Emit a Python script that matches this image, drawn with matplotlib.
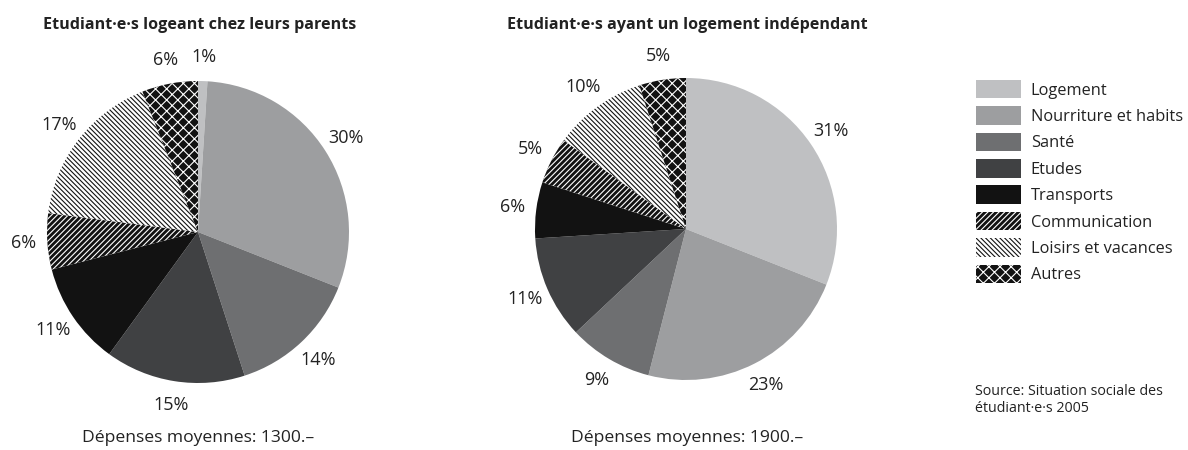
import matplotlib
matplotlib.use("Agg")
import matplotlib.pyplot as plt

plt.rcParams['font.family'] = ['Open Sans', 'DejaVu Sans']
plt.rcParams['hatch.linewidth'] = 0.8

categories = ["Logement", "Nourriture et habits", "Santé", "Etudes", "Transports",
              "Communication", "Loisirs et vacances", "Autres"]
parents = [1, 30, 14, 15, 11, 6, 17, 6]
independant = [31, 23, 9, 11, 6, 5, 10, 5]

titres = ["Etudiant·e·s logeant chez leurs parents",
          "Etudiant·e·s ayant un logement indépendant"]
depenses = ["Dépenses moyennes: 1300.–", "Dépenses moyennes: 1900.–"]
source = "Source: Situation sociale des\nétudiant·e·s 2005"

# couleur de fond, couleur des hachures, motif
faces = ["#bfc0c2", "#9d9ea0", "#6e6f71", "#404143", "#121212", "#121212", "white", "#121212"]
edges = ["#bfc0c2", "#9d9ea0", "#6e6f71", "#404143", "#121212", "white", "#121212", "white"]
hatches = [None, None, None, None, None, "//////", "\\" * 7, "xxx"]

W, H = 1188, 450
fig = plt.figure(figsize=(W / 100, H / 100), dpi=100)


def pie_axes(cx, cy, r):
    return fig.add_axes([(cx - r) / W, (H - cy - r) / H, 2 * r / W, 2 * r / H])


centres = [(198, 232), (686, 229)]
wedges_all = []
for i, vals in enumerate([parents, independant]):
    cx, cy = centres[i]
    ax = pie_axes(cx, cy, 151)
    wedges, texts = ax.pie(vals, labels=[f"{v}%" for v in vals], startangle=90,
                           counterclock=False, labeldistance=1.16,
                           colors=faces, wedgeprops=dict(linewidth=0),
                           textprops=dict(fontsize=13, color="#222222"))
    for w, ec, h in zip(wedges, edges, hatches):
        w.set_edgecolor(ec)
        if h:
            w.set_hatch(h)
    for t in texts:
        t.set_ha("center")
    ax.set_xlim(-1, 1)
    ax.set_ylim(-1, 1)
    wedges_all.append(wedges)

fig.text(43 / W, 1 - 25 / H, titres[0], fontsize=11.6, fontweight="bold",
         va="center", ha="left", color="#222222")
fig.text(507 / W, 1 - 25 / H, titres[1], fontsize=11.6, fontweight="bold",
         va="center", ha="left", color="#222222")
fig.text(198 / W, 1 - 438 / H, depenses[0], fontsize=12.6, ha="center", va="center",
         color="#222222")
fig.text(687 / W, 1 - 438 / H, depenses[1], fontsize=12.6, ha="center", va="center",
         color="#222222")

leg = fig.legend(wedges_all[0], categories, loc="upper left",
                 bbox_to_anchor=(976 / W, 1 - 80 / H), frameon=False,
                 fontsize=11.8, borderpad=0, borderaxespad=0,
                 handlelength=2.74, handleheight=1.35, labelspacing=0.47,
                 handletextpad=0.6)
for t in leg.get_texts():
    t.set_color("#222222")

fig.text(975 / W, 1 - 400 / H, source, fontsize=10.3, ha="left", va="center",
         color="#222222", linespacing=1.2)

fig.savefig("out.png", dpi=100)
